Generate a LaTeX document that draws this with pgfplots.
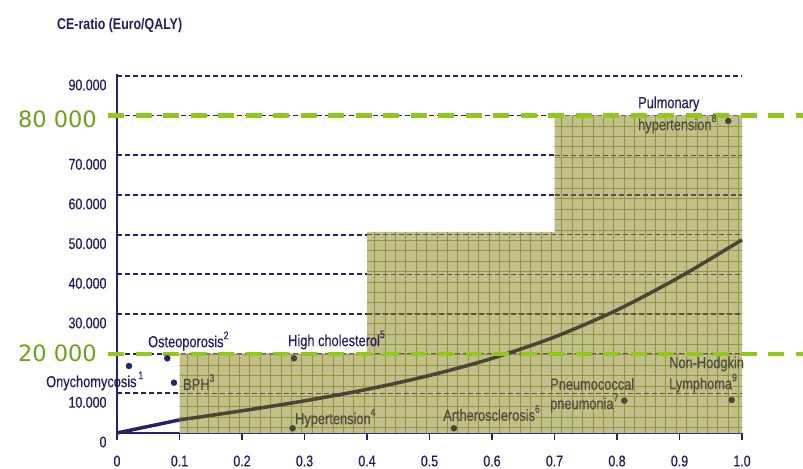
\documentclass[border=0pt]{standalone}
\usepackage{fontspec}
\setmainfont{Liberation Sans}[FakeStretch=0.8]
\newfontfamily\medfont{Liberation Sans}[FakeStretch=0.8, FakeBold=0.35]
\newfontfamily\greenfont{DejaVu Sans}
\usepackage{pgfplots}
\pgfplotsset{compat=1.18}
\usetikzlibrary{patterns.meta}

\definecolor{navy}{RGB}{36,34,104}
\definecolor{navytext}{RGB}{32,30,92}
\definecolor{shade}{RGB}{194,192,138}
\definecolor{olivegrid}{RGB}{150,148,62}
\definecolor{darkcurve}{RGB}{72,70,56}
\definecolor{shadetext}{RGB}{78,77,62}
\definecolor{darkdash}{RGB}{88,86,66}
\definecolor{limeline}{RGB}{146,200,28}
\definecolor{limetext}{RGB}{108,162,26}

\newcommand\sups[1]{\raisebox{0.5em}{\fontsize{11bp}{12bp}\selectfont #1}}
\newcommand\annfont{\medfont\fontsize{16bp}{19bp}\selectfont}

\begin{document}
\begin{tikzpicture}
\path[use as bounding box] (0,0) rectangle (803bp,469bp);
\begin{axis}[
  at={(117bp,36bp)}, anchor=south west,
  scale only axis, width=625bp, height=359bp,
  xmin=0, xmax=1, ymin=0, ymax=90500,
  axis lines=left,
  axis line style={-, line width=2.6bp, draw=navy},
  clip=false,
  scaled y ticks=false,
  xtick={0,0.1,0.2,0.3,0.4,0.5,0.6,0.7,0.8,0.9,1},
  xticklabels={0,0.1,0.2,0.3,0.4,0.5,0.6,0.7,0.8,0.9,1.0},
  ytick={0,10000,20000,30000,40000,50000,60000,70000,80000,90000},
  yticklabels={0,10.000,,30.000,40.000,50.000,60.000,70.000,,90.000},
  ymajorgrids,
  grid style={navy, line width=1.7bp, dash pattern=on 5bp off 3bp},
  tick align=outside,
  major tick length=7bp,
  xtick style={navy, line width=1.8bp},
  ytick style={draw=none},
  ticklabel style={font=\medfont\fontsize{15.5bp}{18bp}\selectfont, text=navytext},
  yticklabel style={yshift=-9bp},
  xticklabel style={yshift=-12bp},
]
% shaded step regions
\addplot[draw=none, fill=shade] coordinates {(0.1,0) (0.1,20000) (0.4,20000) (0.4,50700) (0.7,50700) (0.7,80000) (1.0,80000) (1.0,0)} -- cycle;
\addplot[draw=none, pattern={Hatch[angle=0, distance=10.4bp, line width=0.55bp]}, pattern color=olivegrid] coordinates {(0.1,0) (0.1,20000) (0.4,20000) (0.4,50700) (0.7,50700) (0.7,80000) (1.0,80000) (1.0,0)} -- cycle;
% grid lines seen through the shading
\addplot[darkdash, line width=1.6bp, dash pattern=on 5bp off 3bp] coordinates {(0.1,10000) (1,10000)};
\addplot[darkdash, line width=1.6bp, dash pattern=on 5bp off 3bp] coordinates {(0.4,20000) (1,20000)};
\addplot[darkdash, line width=1.6bp, dash pattern=on 5bp off 3bp] coordinates {(0.4,30000) (1,30000)};
\addplot[darkdash, line width=1.6bp, dash pattern=on 5bp off 3bp] coordinates {(0.4,40000) (1,40000)};
\addplot[darkdash, line width=1.6bp, dash pattern=on 5bp off 3bp] coordinates {(0.4,50000) (1,50000)};
\addplot[darkdash, line width=1.6bp, dash pattern=on 5bp off 3bp] coordinates {(0.7,60000) (1,60000)};
\addplot[darkdash, line width=1.6bp, dash pattern=on 5bp off 3bp] coordinates {(0.7,70000) (1,70000)};
% curve
\addplot[navy, line width=3.5bp] coordinates {(0,0) (0.1,3300)};
\addplot[darkcurve, line width=3.5bp, smooth] coordinates {(0.1,3300) (0.2,5600) (0.3,8100) (0.4,11000) (0.5,14500) (0.6,18800) (0.7,24200) (0.8,31000) (0.9,39300) (1.0,48700)};
% green reference lines
\addplot[limeline, line width=4.3bp, dash pattern=on 16bp off 11.5bp] coordinates {(-0.0144,80000) (1.1,80000)};
\addplot[limeline, line width=4.3bp, dash pattern=on 16bp off 11.5bp] coordinates {(-0.0144,20000) (1.1,20000)};
% points
\addplot[only marks, mark=*, mark size=3bp, navy] coordinates {(0.0192,16890) (0.0805,18830) (0.0912,12680)};
\addplot[only marks, mark=*, mark size=3bp, darkcurve] coordinates {(0.2832,18830) (0.281,1180) (0.539,1180) (0.8117,8150) (0.9835,8320) (0.978,78650)};
% labels
\node[anchor=west, inner sep=0pt, text=navytext, font=\annfont] at (axis cs:-0.1136,13110) {Onychomycosis\sups{\,1}};
\node[anchor=west, inner sep=0pt, text=navytext, font=\annfont] at (axis cs:0.0496,23190) {Osteoporosis\sups{2}};
\node[anchor=west, inner sep=0pt, text=shadetext, font=\annfont] at (axis cs:0.1056,12860) {BPH\sups{3}};
\node[anchor=west, inner sep=0pt, text=navytext, font=\annfont] at (axis cs:0.2736,23450) {High cholesterol\sups{5}};
\node[anchor=west, inner sep=0pt, text=shadetext, font=\annfont] at (axis cs:0.2848,3780) {Hypertension\sups{4}};
\node[anchor=west, inner sep=0pt, text=shadetext, font=\annfont] at (axis cs:0.5216,5040) {Artherosclerosis\sups{6}};
\node[anchor=west, inner sep=0pt, text=shadetext, font=\annfont] at (axis cs:0.6928,12350) {Pneumococcal};
\node[anchor=west, inner sep=0pt, text=shadetext, font=\annfont] at (axis cs:0.6928,7560) {pneumonia\sups{7}};
\node[anchor=west, inner sep=0pt, text=shadetext, font=\annfont] at (axis cs:0.8832,17400) {Non-Hodgkin};
\node[anchor=west, inner sep=0pt, text=shadetext, font=\annfont] at (axis cs:0.8832,12600) {Lymphoma\sups{9}};
\node[anchor=west, inner sep=0pt, text=navytext, font=\annfont] at (axis cs:0.8336,82940) {Pulmonary};
\node[anchor=west, inner sep=0pt, text=shadetext, font=\annfont] at (axis cs:0.8336,77900) {hypertension\sups{8}};
% title
\node[anchor=west, inner sep=0pt, text=navytext, font=\fontsize{15.5bp}{18bp}\selectfont\bfseries] at (axis cs:-0.096,102600) {CE-ratio (Euro/QALY)};
% green value labels
\node[anchor=east, inner sep=0pt, text=limetext, font=\greenfont\fontsize{22.5bp}{26bp}\selectfont] at (axis cs:-0.032,79000) {80 000};
\node[anchor=east, inner sep=0pt, text=limetext, font=\greenfont\fontsize{22.5bp}{26bp}\selectfont] at (axis cs:-0.032,20000) {20 000};
\end{axis}
\end{tikzpicture}
\end{document}
